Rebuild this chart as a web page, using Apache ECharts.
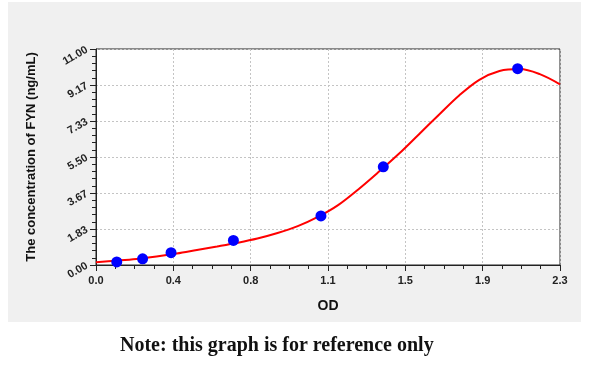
<!DOCTYPE html>
<html>
<head>
<meta charset="utf-8">
<script src="https://cdn.jsdelivr.net/npm/echarts@6/dist/echarts.min.js"></script>
<style>
html,body{margin:0;padding:0;background:#fff;}
#c{width:600px;height:366px;}
</style>
</head>
<body>
<div id="c"></div>
<script>
// Standard points (OD, concentration)
const pointOD = [0.103, 0.231, 0.372, 0.681, 1.115, 1.424, 2.090];
const pointConc = [0.156, 0.313, 0.625, 1.25, 2.5, 5, 10];
// Fitted curve
const curveOD = [0, 0.1, 0.2, 0.3, 0.4, 0.5, 0.6, 0.7, 0.8, 0.9, 1.0, 1.1, 1.2, 1.3, 1.4, 1.5, 1.6, 1.7, 1.8, 1.9, 2.0, 2.1, 2.2, 2.3];
const curveConc = [0.14, 0.22, 0.31, 0.43, 0.58, 0.76, 0.94, 1.13, 1.35, 1.63, 1.98, 2.45, 3.05, 3.85, 4.73, 5.65, 6.65, 7.65, 8.63, 9.43, 9.88, 9.98, 9.72, 9.20];
// Tick labels
const xTickLabels = ['0.0', '0.4', '0.8', '1.1', '1.5', '1.9', '2.3'];
const yTickLabels = ['0.00', '1.83', '3.67', '5.50', '7.33', '9.17', '11.00'];
const xMax = 2.3, yMax = 11;

const xInt = xMax / 6, yInt = yMax / 6;
const chart = echarts.init(document.getElementById('c'));
const gridLine = {show: true, lineStyle: {color: '#c4c4c4', type: [2, 2], width: 1}};
chart.setOption({
  animation: false,
  backgroundColor: '#ffffff',
  graphic: [
    {type: 'rect', z: -10, shape: {x: 8, y: 2, width: 573, height: 320}, style: {fill: '#f0f0f0'}},
    {type: 'text', left: 120, top: 336, style: {text: 'Note: this graph is for reference only', font: 'bold 20px "Liberation Serif"', fill: '#111'}}
  ],
  grid: {left: 96, right: 40, top: 49, bottom: 101, show: true, backgroundColor: '#ffffff', borderColor: '#222', borderWidth: 1},
  xAxis: {
    type: 'value', min: 0, max: xMax, interval: xInt,
    name: 'OD', nameLocation: 'middle', nameGap: 34,
    nameTextStyle: {fontFamily: 'Liberation Sans', fontWeight: 'bold', fontSize: 14, color: '#111'},
    axisLine: {show: true, lineStyle: {color: '#222', width: 1}},
    axisTick: {show: true, length: 6, lineStyle: {color: '#222'}},
    minorTick: {show: true, splitNumber: 4, length: 4, lineStyle: {color: '#222'}},
    splitLine: gridLine,
    axisLabel: {
      margin: 10, fontFamily: 'Liberation Sans', fontWeight: 'bold', fontSize: 11, color: '#222',
      showMaxLabel: true, showMinLabel: true,
      formatter: v => xTickLabels[Math.round(v / xInt)] || ''
    }
  },
  yAxis: {
    type: 'value', min: 0, max: yMax, interval: yInt,
    name: 'The concentration of FYN (ng/mL)', nameLocation: 'middle', nameGap: 58,
    nameTextStyle: {fontFamily: 'Liberation Sans', fontWeight: 'bold', fontSize: 13, color: '#111'},
    axisLine: {show: true, lineStyle: {color: '#222', width: 1}},
    axisTick: {show: true, length: 6, lineStyle: {color: '#222'}},
    minorTick: {show: true, splitNumber: 5, length: 4, lineStyle: {color: '#222'}},
    splitLine: gridLine,
    axisLabel: {
      margin: 9, rotate: 30, fontFamily: 'Liberation Sans', fontWeight: 'bold', fontSize: 11, color: '#222',
      showMaxLabel: true, showMinLabel: true,
      formatter: v => yTickLabels[Math.round(v / yInt)] || ''
    }
  },
  series: [
    {
      type: 'line', smooth: 0.35, showSymbol: false, symbol: 'none', clip: true,
      data: curveOD.map((x, i) => [x, curveConc[i]]),
      lineStyle: {color: '#ff0000', width: 2}, z: 3
    },
    {
      type: 'scatter', symbol: 'circle', symbolSize: 11,
      data: pointOD.map((x, i) => [x, pointConc[i]]),
      itemStyle: {color: '#0000ff', opacity: 1}, z: 4
    }
  ]
});
</script>
</body>
</html>
